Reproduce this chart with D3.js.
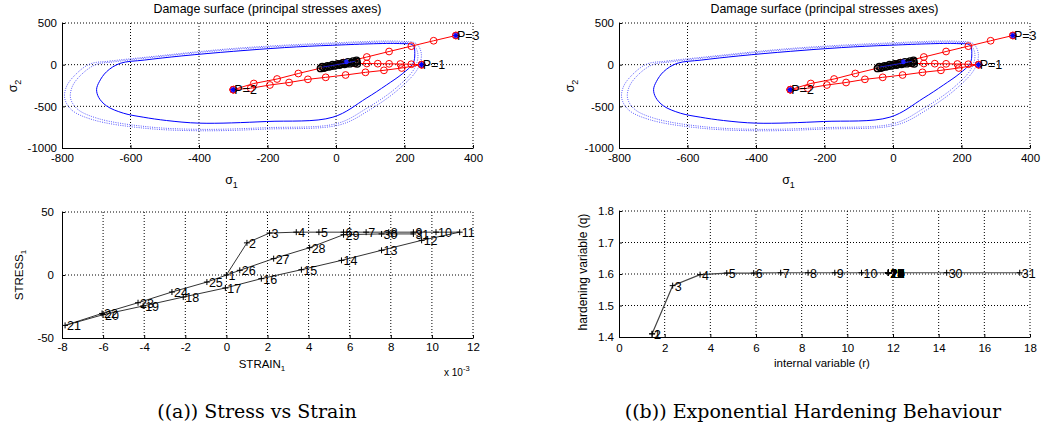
<!DOCTYPE html>
<html>
<head>
<meta charset="utf-8">
<script src="https://cdn.jsdelivr.net/npm/d3@7"></script>
<style>
  body { margin: 0; background: #fff; }
  svg text { font-family: "Liberation Sans", Arial, sans-serif; fill: #000; }
</style>
</head>
<body>
<svg id="chart" width="1042" height="429"></svg>
<script>
// ---- damage surface (principal stress space) ----
var surfaceSolid = [
  [-631, 15], [-560, 55], [-450, 105], [-300, 160], [-150, 205], [-9, 233], [186, 253], [225, 233],
  [230, 133], [225, 15], [195, -105], [147, -245], [88, -404], [-9, -630], [-203, -682],
  [-398, -702], [-495, -670], [-563, -630], [-621, -582], [-670, -495], [-693, -392],
  [-699, -296], [-691, -204], [-670, -85]
];
var surfaceDotA = [
  [-719, 7], [-660, 43], [-544, 94], [-300, 194], [-9, 261], [186, 281], [234, 253], [249, 134],
  [239, -45], [186, -284], [98, -543], [11, -722], [-203, -773], [-398, -793], [-563, -761],
  [-709, -662], [-772, -543], [-792, -403], [-787, -264], [-762, -125]
];
var surfaceDotB = [
  [-702, 0], [-650, 33], [-544, 84], [-300, 183], [-9, 249], [186, 268], [225, 242], [239, 130],
  [229, -45], [176, -278], [88, -528], [3, -706], [-203, -756], [-398, -776], [-553, -744],
  [-695, -646], [-755, -533], [-775, -403], [-770, -264], [-745, -125]
];

// loading path (sigma1, sigma2)
var pathToP1 = [[10, 5], [55, 14], [90, 14], [122, 12], [155, 10], [188, 8], [220, 5], [250, 0]];
var pathP1P2 = [[250, 0], [192, -40], [140, -68], [86, -92], [28, -124], [-30, -152],
  [-82, -176], [-137, -214], [-193, -244], [-249, -283], [-300, -300]];
var pathP2P3 = [[-300, -300], [-240, -226], [-172, -172], [-110, -106], [-45, -42], [22, 25],
  [90, 92], [155, 158], [220, 222], [285, 287], [350, 350]];
var elasticSteps = [
  [-45, -45], [-30, -30], [-15, -18], [0, -5], [15, 5], [30, 15], [45, 25], [60, 35],
  [-40, -25], [-25, -15], [-10, 0], [5, 10], [20, 22], [35, 32], [50, 42], [60, 50],
  [-35, -40], [-20, -25], [-5, -15], [10, -5], [25, 5], [40, 12], [55, 20], [62, 10]
];
var loadNames = ["P=1", "P=2", "P=3"];
var loadS1 = [250, -300, 350];
var loadS2 = [0, -300, 350];

// ---- stress vs strain ----
var stepLabels = ["1", "2", "3", "4", "5", "6", "7", "8", "9", "10", "11", "12", "13", "14", "15", "16",
  "17", "18", "19", "20", "21", "22", "23", "24", "25", "26", "27", "28", "29", "30", "31"];
var strain = [0, 1.0, 2.1, 3.4, 4.5, 5.7, 6.8, 7.9, 9.1, 10.2, 11.35, 9.5, 7.55, 5.6, 3.65, 1.7,
  -0.05, -2.1, -4.05, -6.0, -7.85, -6.05, -4.3, -2.65, -0.95, 0.65, 2.3, 4.05, 5.7, 7.55, 9.1];
var stress = [0, 25.5, 33.3, 34, 34, 34, 34, 34, 34, 34, 34, 27.5, 19.6, 11.6, 4.2, -2.9,
  -10.3, -17.5, -24.6, -31.5, -40, -30.5, -22, -13.5, -5.6, 3.7, 13, 21.7, 32, 32.6, 32.6];

// ---- hardening ----
var rVar = [1.45, 1.45, 2.35, 3.55, 4.72, 5.9, 7.08, 8.28, 9.45, 10.62, 11.8, 11.8, 11.8, 11.8,
  11.8, 11.8, 11.8, 11.8, 11.8, 11.8, 11.8, 11.8, 11.8, 11.8, 11.8, 11.8, 11.8, 11.8, 11.8, 14.35, 17.55];
var qVar = [1.41, 1.41, 1.563, 1.598, 1.603, 1.603, 1.604, 1.604, 1.604, 1.604, 1.604, 1.604, 1.604, 1.604,
  1.604, 1.604, 1.604, 1.604, 1.604, 1.604, 1.604, 1.604, 1.604, 1.604, 1.604, 1.604, 1.604, 1.604, 1.604, 1.604, 1.604];

var svg = d3.select("#chart");

function fmt(d) { return String(d); }

function addPanel(o) {
  var x = d3.scaleLinear().domain(o.xDomain).range([o.left, o.right]);
  var y = d3.scaleLinear().domain(o.yDomain).range([o.bottom, o.top]);
  var g = svg.append("g");

  // dotted grid
  g.append("g").selectAll("line").data(o.xTicks.slice(1)).enter().append("line")
    .attr("x1", function(d) { return x(d); }).attr("x2", function(d) { return x(d); })
    .attr("y1", o.top).attr("y2", o.bottom)
    .attr("stroke", "#000").attr("stroke-width", 1).attr("stroke-dasharray", "1,2");
  g.append("g").selectAll("line").data(o.yTicks.slice(1)).enter().append("line")
    .attr("y1", function(d) { return y(d); }).attr("y2", function(d) { return y(d); })
    .attr("x1", o.left).attr("x2", o.right)
    .attr("stroke", "#000").attr("stroke-width", 1).attr("stroke-dasharray", "1,2");

  var xa = g.append("g").attr("transform", "translate(0," + o.bottom + ")")
    .call(d3.axisBottom(x).tickValues(o.xTicks).tickSize(-3).tickSizeOuter(0).tickPadding(o.xPad).tickFormat(fmt));
  var ya = g.append("g").attr("transform", "translate(" + o.left + ",0)")
    .call(d3.axisLeft(y).tickValues(o.yTicks).tickSize(-3).tickSizeOuter(0).tickPadding(o.yPad).tickFormat(fmt));
  [xa, ya].forEach(function(a) {
    a.attr("font-family", "Liberation Sans, Arial, sans-serif").attr("font-size", 11.5);
    a.select(".domain").attr("stroke", "#000");
    a.selectAll(".tick line").attr("stroke", "#000");
    a.selectAll(".tick text").attr("fill", "#000");
  });
  return { x: x, y: y, g: g };
}

function asterisk(g, cx, cy, s, color) {
  var d = "M" + (cx - s) + "," + cy + "H" + (cx + s) +
    "M" + cx + "," + (cy - s) + "V" + (cy + s) +
    "M" + (cx - s * 0.7) + "," + (cy - s * 0.7) + "L" + (cx + s * 0.7) + "," + (cy + s * 0.7) +
    "M" + (cx - s * 0.7) + "," + (cy + s * 0.7) + "L" + (cx + s * 0.7) + "," + (cy - s * 0.7);
  g.append("path").attr("d", d).attr("stroke", color).attr("stroke-width", 1.2).attr("fill", "none");
}

function damagePanel(left, right) {
  var p = addPanel({
    left: left, right: right, top: 23, bottom: 148,
    xDomain: [-800, 400], yDomain: [-1000, 500],
    xTicks: [-800, -600, -400, -200, 0, 200, 400], yTicks: [-1000, -500, 0, 500],
    xPad: 6, yPad: 5
  });
  var x = p.x, y = p.y, g = p.g;
  var cx = (left + right) / 2;

  g.append("text").attr("x", cx).attr("y", 13).attr("text-anchor", "middle")
    .attr("font-size", 12.4).text("Damage surface (principal stresses axes)");
  var xl = g.append("text").attr("x", cx - 36).attr("y", 184).attr("text-anchor", "middle").attr("font-size", 12.5);
  xl.append("tspan").text("σ");
  xl.append("tspan").attr("font-size", 9).attr("dy", 4).text("1");
  var yl = g.append("text").attr("transform", "translate(" + (left - 45) + ",86) rotate(-90)")
    .attr("text-anchor", "middle").attr("font-size", 12.5);
  yl.append("tspan").text("σ");
  yl.append("tspan").attr("font-size", 9).attr("dy", 4).text("2");

  var closed = d3.line().x(function(d) { return x(d[0]); }).y(function(d) { return y(d[1]); })
    .curve(d3.curveCatmullRomClosed.alpha(0.5));
  g.append("path").attr("d", closed(surfaceDotA)).attr("fill", "none")
    .attr("stroke", "#5a5aff").attr("stroke-width", 1).attr("stroke-dasharray", "1,1.3");
  g.append("path").attr("d", closed(surfaceDotB)).attr("fill", "none")
    .attr("stroke", "#5a5aff").attr("stroke-width", 1).attr("stroke-dasharray", "1,1.3");
  g.append("path").attr("d", closed(surfaceSolid)).attr("fill", "none")
    .attr("stroke", "#0000ff").attr("stroke-width", 1);

  var line = d3.line().x(function(d) { return x(d[0]); }).y(function(d) { return y(d[1]); });
  [pathToP1, pathP1P2, pathP2P3].forEach(function(pts) {
    g.append("path").attr("d", line(pts)).attr("fill", "none").attr("stroke", "#ff0000").attr("stroke-width", 1);
    g.append("g").selectAll("circle").data(pts).enter().append("circle")
      .attr("cx", function(d) { return x(d[0]); }).attr("cy", function(d) { return y(d[1]); })
      .attr("r", 3.4).attr("fill", "none").attr("stroke", "#ff0000").attr("stroke-width", 1);
  });

  // elastic steps near origin
  g.append("g").selectAll("circle").data(elasticSteps).enter().append("circle")
    .attr("cx", function(d) { return x(d[0]); }).attr("cy", function(d) { return y(d[1]); })
    .attr("r", 3.3).attr("fill", "none").attr("stroke", "#000").attr("stroke-width", 1.3);
  g.append("path").attr("d", line([[-40, -30], [0, -2], [30, 20], [55, 40]]))
    .attr("fill", "none").attr("stroke", "#2020ff").attr("stroke-width", 0.8);
  asterisk(g, x(30), y(35), 2.5, "#2020ff");

  loadNames.forEach(function(n, i) {
    var px = x(loadS1[i]), py = y(loadS2[i]);
    g.append("circle").attr("cx", px).attr("cy", py).attr("r", 3.3).attr("fill", "#ff9090").attr("stroke", "#ff0000");
    asterisk(g, px, py, 3, "#0000ff");
    g.append("text").attr("x", px + 1).attr("y", py).attr("dy", "0.38em").attr("font-size", 12.5).text(n);
  });
}

damagePanel(62, 473);
damagePanel(619, 1030);

// ---- stress vs strain panel ----
(function() {
  var p = addPanel({
    left: 62, right: 473, top: 212, bottom: 338,
    xDomain: [-8, 12], yDomain: [-50, 50],
    xTicks: [-8, -6, -4, -2, 0, 2, 4, 6, 8, 10, 12], yTicks: [-50, 0, 50],
    xPad: 5, yPad: 8
  });
  var x = p.x, y = p.y, g = p.g;
  var line = d3.line().x(function(d, i) { return x(strain[i]); }).y(function(d, i) { return y(stress[i]); });
  g.append("path").attr("d", line(strain)).attr("fill", "none").attr("stroke", "#333").attr("stroke-width", 1);
  var pts = g.append("g").selectAll("g").data(stepLabels).enter().append("g")
    .attr("transform", function(d, i) { return "translate(" + x(strain[i]) + "," + y(stress[i]) + ")"; });
  pts.append("path").attr("d", "M-3,0H3M0,-3V3").attr("stroke", "#000").attr("stroke-width", 1);
  pts.append("text").attr("x", 2).attr("dy", "0.4em").attr("font-size", 12.5).text(function(d) { return d; });

  var xl = g.append("text").attr("x", 262).attr("y", 368).attr("text-anchor", "middle").attr("font-size", 11.5);
  xl.append("tspan").text("STRAIN");
  xl.append("tspan").attr("font-size", 8).attr("dy", 3).text("1");
  var yl = g.append("text").attr("transform", "translate(23,275) rotate(-90)")
    .attr("text-anchor", "middle").attr("font-size", 11.5);
  yl.append("tspan").text("STRESS");
  yl.append("tspan").attr("font-size", 8).attr("dy", 3).text("1");
  var ex = g.append("text").attr("x", 444).attr("y", 376).attr("font-size", 10);
  ex.append("tspan").text("x 10");
  ex.append("tspan").attr("font-size", 7.5).attr("dy", -5).text("-3");
})();

// ---- hardening panel ----
(function() {
  var p = addPanel({
    left: 619, right: 1030, top: 211, bottom: 337,
    xDomain: [0, 18], yDomain: [1.4, 1.8],
    xTicks: [0, 2, 4, 6, 8, 10, 12, 14, 16, 18], yTicks: [1.4, 1.5, 1.6, 1.7, 1.8],
    xPad: 7, yPad: 5
  });
  var x = p.x, y = p.y, g = p.g;
  var line = d3.line().x(function(d, i) { return x(rVar[i]); }).y(function(d, i) { return y(qVar[i]); });
  g.append("path").attr("d", line(rVar)).attr("fill", "none").attr("stroke", "#444").attr("stroke-width", 1.2);
  var pts = g.append("g").selectAll("g").data(stepLabels).enter().append("g")
    .attr("transform", function(d, i) { return "translate(" + x(rVar[i]) + "," + y(qVar[i]) + ")"; });
  pts.append("path").attr("d", "M-3,0H3M0,-3V3").attr("stroke", "#000").attr("stroke-width", 1);
  pts.append("text").attr("x", 2).attr("dy", "0.4em").attr("font-size", 12.5).text(function(d) { return d; });

  g.append("text").attr("x", 822).attr("y", 367).attr("text-anchor", "middle").attr("font-size", 11.5)
    .text("internal variable (r)");
  g.append("text").attr("transform", "translate(587,272) rotate(-90)").attr("text-anchor", "middle")
    .attr("font-size", 12).text("hardening variable (q)");
})();

// ---- captions ----
svg.append("text").attr("x", 257).attr("y", 418).attr("text-anchor", "middle")
  .style("font-family", "DejaVu Serif, serif").attr("font-size", 19).text("((a)) Stress vs Strain");
svg.append("text").attr("x", 813).attr("y", 418).attr("text-anchor", "middle")
  .style("font-family", "DejaVu Serif, serif").attr("font-size", 19).text("((b)) Exponential Hardening Behaviour");
</script>
</body>
</html>
